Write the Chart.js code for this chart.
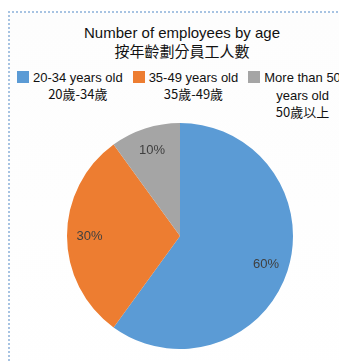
<!DOCTYPE html>
<html>
<head>
<meta charset="utf-8">
<script src="https://cdn.jsdelivr.net/npm/chart.js@4"></script>
<style>
  html, body { margin:0; padding:0; background:#fff; overflow:hidden; }
  body { width:339px; height:361px; position:relative; font-family:"Liberation Sans", Arial, "Noto Sans CJK TC", sans-serif; color:#111; }
  .frame { position:absolute; left:8px; top:11px; width:400px; height:400px; border-top:2px dotted #a7c3e2; border-left:2px dotted #a7c3e2; background:linear-gradient(#fdfdfd,#fff); }
  .title { position:absolute; left:12px; width:340px; top:23px; text-align:center; font-size:15px; }
  .title div { height:19px; line-height:19px; }
  .legend { position:absolute; top:69px; left:17px; display:flex; white-space:nowrap; font-size:13px; }
  .item { display:flex; align-items:flex-start; margin-right:10px; }
  .sw { width:12px; height:12px; margin-top:2px; margin-right:4px; flex:none; }
  .txt { text-align:center; }
  .txt div { height:17.5px; line-height:17px; }
  .cjk { font-family:"Noto Sans CJK TC", sans-serif; position:relative; top:-1.5px; }
  #wrap { position:absolute; left:67px; top:123px; width:226px; height:226px; }
</style>
</head>
<body>
<div class="frame"></div>
<div class="title"><div>Number of employees by age</div><div class="cjk">按年齡劃分員工人數</div></div>
<div class="legend" id="legend"></div>
<div id="wrap"><canvas id="pie"></canvas></div>
<script>
/* ── DATA ── */
const LABELS_EN = [['20-34 years old'], ['35-49 years old'], ['More than 50', 'years old']];
const LABELS_ZH = ['20歲-34歲', '35歲-49歲', '50歲以上'];
const VALUES = [60, 30, 10];
const COLORS = ['#5b9bd5', '#ed7d31', '#a5a5a5'];

/* ── LEGEND ── */
document.getElementById('legend').innerHTML = LABELS_EN.map((lines, i) => `
  <div class="item">
    <div class="sw" style="background:${COLORS[i]}"></div>
    <div class="txt">${lines.map(t => `<div>${t}</div>`).join('')}<div class="cjk">${LABELS_ZH[i]}</div></div>
  </div>`).join('');

/* ── PERCENT LABELS ── */
const pctLabels = {
  id: 'pctLabels',
  afterDatasetsDraw(chart) {
    const ctx = chart.ctx;
    const total = VALUES.reduce((a, b) => a + b, 0);
    ctx.save();
    ctx.font = '13px "Liberation Sans", Arial, sans-serif';
    ctx.fillStyle = '#404040';
    ctx.textAlign = 'center';
    ctx.textBaseline = 'middle';
    chart.getDatasetMeta(0).data.forEach((arc, i) => {
      const p = arc.getProps(['x', 'y', 'startAngle', 'endAngle', 'outerRadius'], true);
      const mid = (p.startAngle + p.endAngle) / 2;
      const r = p.outerRadius * 0.8;
      ctx.fillText(Math.round(VALUES[i] / total * 100) + '%', p.x + Math.cos(mid) * r, p.y + Math.sin(mid) * r);
    });
    ctx.restore();
  }
};

/* ── PIE ── */
new Chart(document.getElementById('pie'), {
  type: 'pie',
  data: {
    labels: LABELS_ZH,
    datasets: [{ data: VALUES, backgroundColor: COLORS, borderWidth: 0 }]
  },
  options: {
    responsive: true,
    maintainAspectRatio: false,
    animation: false,
    layout: { padding: 0 },
    plugins: { legend: { display: false }, tooltip: { enabled: false } }
  },
  plugins: [pctLabels]
});
</script>
</body>
</html>
